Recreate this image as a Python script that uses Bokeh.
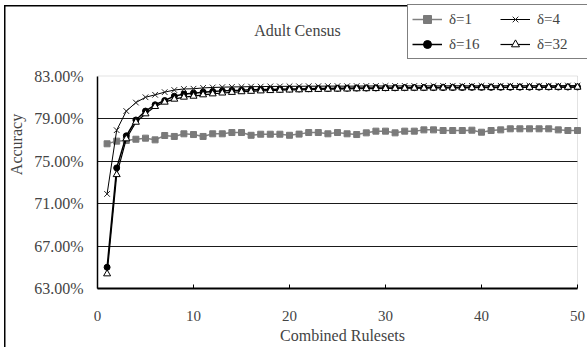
from bokeh.plotting import figure
from bokeh.models import (Range1d, FixedTicker, Label, Legend, LegendItem,
                          BoxAnnotation, Grid)
from bokeh.embed import file_html
from bokeh.resources import INLINE

# ---------------- data ----------------
rulesets = list(range(1, 51))

acc_d1 = [76.62, 76.87, 76.93, 77.05, 77.15, 76.99, 77.40, 77.31, 77.56, 77.49,
          77.31, 77.56, 77.56, 77.68, 77.68, 77.42, 77.52, 77.52, 77.52, 77.42,
          77.53, 77.68, 77.68, 77.56, 77.68, 77.56, 77.49, 77.65, 77.81, 77.81,
          77.65, 77.81, 77.81, 77.93, 77.93, 77.87, 77.87, 77.87, 77.90, 77.71,
          77.87, 77.93, 78.03, 78.03, 78.03, 78.03, 78.03, 77.93, 77.87, 77.87]

acc_d4 = [71.90, 77.90, 79.70, 80.50, 81.00, 81.23, 81.48, 81.68, 81.78, 81.80,
          81.88, 81.92, 81.95, 81.97, 81.98, 82.00, 82.00, 82.02, 82.02, 82.03,
          82.03, 82.04, 82.04, 82.05, 82.05, 82.04, 82.05, 82.06, 82.06, 82.06,
          82.06, 82.07, 82.06, 82.07, 82.07, 82.07, 82.08, 82.08, 82.07, 82.08,
          82.08, 82.08, 82.09, 82.08, 82.09, 82.09, 82.09, 82.09, 82.10, 82.10]

acc_d16 = [65.00, 74.35, 77.37, 78.86, 79.70, 80.29, 80.69, 81.10, 81.30, 81.38,
           81.48, 81.54, 81.60, 81.64, 81.66, 81.70, 81.72, 81.74, 81.76, 81.78,
           81.78, 81.80, 81.82, 81.82, 81.84, 81.85, 81.86, 81.86, 81.87, 81.88,
           81.88, 81.89, 81.90, 81.90, 81.91, 81.91, 81.92, 81.92, 81.93, 81.93,
           81.93, 81.94, 81.94, 81.95, 81.95, 81.95, 81.96, 81.96, 81.96, 81.97]

acc_d32 = [64.38, 73.72, 77.09, 78.65, 79.44, 80.13, 80.54, 80.82, 81.01, 81.10,
           81.23, 81.32, 81.40, 81.46, 81.52, 81.56, 81.60, 81.63, 81.66, 81.68,
           81.70, 81.72, 81.74, 81.76, 81.77, 81.78, 81.80, 81.81, 81.82, 81.83,
           81.84, 81.85, 81.86, 81.86, 81.87, 81.88, 81.88, 81.89, 81.90, 81.90,
           81.91, 81.91, 81.92, 81.92, 81.93, 81.93, 81.93, 81.94, 81.94, 81.95]

series_labels = ["δ=1", "δ=4", "δ=16", "δ=32"]
y_ticks = [63, 67, 71, 75, 79, 83]
y_tick_labels = ["63.00%", "67.00%", "71.00%", "75.00%", "79.00%", "83.00%"]
x_ticks = [0, 10, 20, 30, 40, 50]
title_text = "Adult Census"
x_title = "Combined Rulesets"
y_title = "Accuracy"

FONT = "Liberation Serif"

# ---------------- geometry ----------------
W, H = 587, 347
LEFT, BOTTOM = 97, 59            # axis panels
PLOT_W, PLOT_H = 480, 212.5       # pixel size of the 0..50 x 63..83 area
x0, x1 = x_ticks[0], x_ticks[-1]
y0, y1 = y_ticks[0], y_ticks[-1]
frame_w = W - LEFT
frame_h = H - BOTTOM
x_end = x0 + (x1 - x0) * frame_w / PLOT_W
y_end = y0 + (y1 - y0) * frame_h / PLOT_H
px_x = (x1 - x0) / PLOT_W
px_y = (y1 - y0) / PLOT_H

p = figure(width=W, height=H, output_backend="svg", toolbar_location=None,
           x_range=Range1d(x0, x_end), y_range=Range1d(y0, y_end),
           min_border_left=LEFT, min_border_right=0,
           min_border_top=0, min_border_bottom=BOTTOM)
p.background_fill_color = None
p.border_fill_color = None
p.outline_line_color = None
# outer chart border: left & top edges (right/bottom lie beyond the picture)
p.styles = {"box-shadow": "inset 4px 5px 0 0 white, inset 5.5px 6.5px 0 0 black",
            "background-color": "white"}

# axes
p.xaxis.bounds = (x0, x1)
p.xaxis.ticker = FixedTicker(ticks=x_ticks)
p.xaxis.major_label_text_font = FONT
p.xaxis.major_label_text_font_size = "15px"
p.xaxis.major_label_standoff = 22
p.xaxis.major_tick_in = 4
p.xaxis.major_tick_out = 0
p.xaxis.minor_tick_line_color = None
p.xaxis.axis_line_color = "black"
p.xaxis.axis_line_width = 2
p.xaxis.major_tick_line_color = "black"
p.xaxis.axis_label = x_title
p.xaxis.axis_label_text_font = FONT
p.xaxis.axis_label_text_font_size = "16px"
p.xaxis.axis_label_text_font_style = "normal"
p.xaxis.axis_label_standoff = 3

p.yaxis.bounds = (y0, y1)
p.yaxis.ticker = FixedTicker(ticks=y_ticks)
p.yaxis.major_label_overrides = {t: l for t, l in zip(y_ticks, y_tick_labels)}
p.yaxis.major_label_text_font = FONT
p.yaxis.major_label_text_font_size = "16px"
p.yaxis.major_label_standoff = 14
p.yaxis.major_tick_in = 0
p.yaxis.major_tick_out = 0
p.yaxis.minor_tick_line_color = None
p.yaxis.axis_line_color = "black"
p.yaxis.axis_line_width = 1.5
p.yaxis.axis_label = y_title
p.yaxis.axis_label_text_font = FONT
p.yaxis.axis_label_text_font_size = "16px"
p.yaxis.axis_label_text_font_style = "normal"
p.yaxis.axis_label_standoff = 6

p.xgrid.grid_line_color = None
p.ygrid.ticker = FixedTicker(ticks=y_ticks[1:-1])
p.ygrid.grid_line_color = "#1a1a1a"
p.ygrid.grid_line_width = 1
has_cross = "cross_bounds" in Grid.properties()
if has_cross:
    p.ygrid.cross_bounds = (x0, x1)
else:
    # hide grid lines beyond the plot area's right edge
    p.add_layout(BoxAnnotation(left=x1, fill_color="white", fill_alpha=1,
                               line_color=None, level="underlay"))

# plot-area border (grey top & right; black axes drawn over left & bottom)
p.add_layout(BoxAnnotation(left=x0, right=x1, bottom=y0, top=y1,
                           fill_alpha=0, line_color="#a0a0a0", line_width=1,
                           level="underlay"))

# ---------------- series ----------------
l1 = p.line(rulesets, acc_d1, line_color="#808080", line_width=1.5)
s1 = p.scatter(rulesets, acc_d1, marker="square", size=6,
               fill_color="#7a7a7a", line_color="#7a7a7a")

l4 = p.line(rulesets, acc_d4, line_color="black", line_width=1)
s4 = p.scatter(rulesets, acc_d4, marker="x", size=8,
               line_color="#222222", line_width=1)

l16 = p.line(rulesets, acc_d16, line_color="black", line_width=1.5)
s16 = p.scatter(rulesets, acc_d16, marker="circle", size=6,
                fill_color="black", line_color="black")

l32 = p.line(rulesets, acc_d32, line_color="black", line_width=1.2)
s32 = p.scatter(rulesets, acc_d32, marker="triangle", size=7,
                fill_color="white", line_color="black", line_width=1)

# legend fills column by column: δ=1 / δ=16 left, δ=4 / δ=32 right
legend = Legend(items=[
    LegendItem(label=series_labels[0], renderers=[l1, s1]),
    LegendItem(label=series_labels[2], renderers=[l16, s16]),
    LegendItem(label=series_labels[1], renderers=[l4, s4]),
    LegendItem(label=series_labels[3], renderers=[l32, s32]),
], ncols=2, location=(407 - LEFT, frame_h - 59), margin=0, padding=4, spacing=5,
   glyph_width=30, glyph_height=20, label_standoff=7, label_width=46,
   label_text_font=FONT, label_text_font_size="15px",
   border_line_color="black", border_line_width=1,
   background_fill_color="white", background_fill_alpha=1)
p.add_layout(legend)

# title
p.add_layout(Label(x=x0 + (297 - LEFT) * px_x, y=y0 + (frame_h - 30) * px_y,
                   text=title_text, text_font=FONT, text_font_size="16px",
                   text_align="center", text_baseline="middle"))

open("out.html", "w").write(file_html(p, INLINE))
